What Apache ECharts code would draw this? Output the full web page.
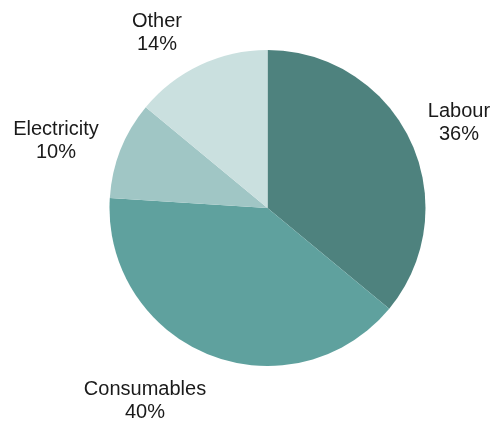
<!DOCTYPE html>
<html>
<head>
<meta charset="utf-8">
<script src="https://cdn.jsdelivr.net/npm/echarts@6/dist/echarts.min.js"></script>
<style>
  html, body { margin: 0; padding: 0; background: #ffffff; }
  #chart { width: 493px; height: 424px; }
</style>
</head>
<body>
<div id="chart"></div>
<script>
// Cost breakdown shares (percent)
const categories = ['Labour', 'Consumables', 'Electricity', 'Other'];
const shares = [36, 40, 10, 14];
const sliceColors = ['#4e827e', '#5fa19e', '#a0c6c5', '#cae0df'];
// Label anchor points (text centre), in pixels
const labelAnchors = [[459, 123], [145, 401], [56, 141], [157, 33]];

const chart = echarts.init(document.getElementById('chart'), null, { renderer: 'canvas' });

chart.setOption({
  animation: false,
  backgroundColor: '#ffffff',
  series: [{
    type: 'pie',
    center: [267.5, 208],
    radius: 158,
    startAngle: 90,
    clockwise: true,
    silent: true,
    data: categories.map((name, i) => ({
      name: name,
      value: shares[i],
      itemStyle: { color: sliceColors[i] }
    })),
    itemStyle: { borderWidth: 0 },
    label: {
      show: true,
      position: 'inside',
      overflow: 'none',
      formatter: p => p.name + '\n' + p.value + '%',
      fontFamily: '"Liberation Sans", Arial, sans-serif',
      fontSize: 20,
      lineHeight: 23,
      color: '#1a1a1a',
      align: 'center'
    },
    labelLine: { show: false },
    labelLayout: function (params) {
      const a = labelAnchors[params.dataIndex];
      return { x: a[0], y: a[1], align: 'center', verticalAlign: 'middle' };
    }
  }]
});
</script>
</body>
</html>
